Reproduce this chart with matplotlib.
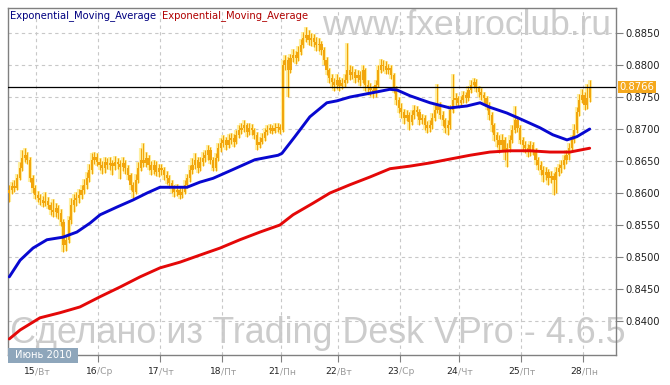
import matplotlib
matplotlib.use('Agg')
import matplotlib.pyplot as plt
import matplotlib.transforms as mtransforms
from matplotlib.patches import Rectangle
import numpy as np

# hourly candles, June 2010
first_open = 0.8600
closes = [
    0.8605, 0.8611, 0.8608, 0.8623, 0.8639, 0.8655, 0.8659, 0.8652, 0.8623, 0.8608,
    0.8597, 0.8592, 0.8589, 0.8584, 0.8588, 0.8581, 0.8573, 0.8570, 0.8577, 0.8569,
    0.8555, 0.8519, 0.8527, 0.8558, 0.8581, 0.8589, 0.8592, 0.8597, 0.8605, 0.8613,
    0.8623, 0.8636, 0.8652, 0.8656, 0.8648, 0.8644, 0.8639, 0.8648, 0.8644, 0.8647,
    0.8642, 0.8648, 0.8645, 0.8641, 0.8647, 0.8639, 0.8628, 0.8613, 0.8602, 0.8620,
    0.8639, 0.8652, 0.8647, 0.8655, 0.8644, 0.8636, 0.8644, 0.8633, 0.8639, 0.8636,
    0.8628, 0.8623, 0.8616, 0.8608, 0.8602, 0.8605, 0.8597, 0.8602, 0.8613, 0.8623,
    0.8636, 0.8644, 0.8652, 0.8639, 0.8648, 0.8655, 0.8659, 0.8667, 0.8652, 0.8639,
    0.8655, 0.8670, 0.8678, 0.8683, 0.8675, 0.8683, 0.8686, 0.8680, 0.8691, 0.8698,
    0.8702, 0.8706, 0.8695, 0.8702, 0.8698, 0.8691, 0.8675, 0.8680, 0.8686, 0.8695,
    0.8698, 0.8702, 0.8697, 0.8702, 0.8703, 0.8698, 0.8800, 0.8808, 0.8792, 0.8811,
    0.8816, 0.8811, 0.8820, 0.8831, 0.8842, 0.8847, 0.8839, 0.8842, 0.8836, 0.8831,
    0.8833, 0.8823, 0.8808, 0.8792, 0.8780, 0.8773, 0.8769, 0.8777, 0.8767, 0.8772,
    0.8777, 0.8792, 0.8784, 0.8789, 0.8780, 0.8784, 0.8777, 0.8792, 0.8769, 0.8764,
    0.8761, 0.8758, 0.8769, 0.8792, 0.8800, 0.8798, 0.8792, 0.8795, 0.8784, 0.8764,
    0.8745, 0.8733, 0.8727, 0.8717, 0.8722, 0.8711, 0.8722, 0.8730, 0.8727, 0.8714,
    0.8717, 0.8706, 0.8702, 0.8706, 0.8717, 0.8730, 0.8738, 0.8722, 0.8714, 0.8702,
    0.8706, 0.8730, 0.8745, 0.8748, 0.8741, 0.8745, 0.8753, 0.8748, 0.8761, 0.8769,
    0.8773, 0.8764, 0.8758, 0.8753, 0.8748, 0.8738, 0.8722, 0.8706, 0.8691, 0.8683,
    0.8675, 0.8683, 0.8667, 0.8670, 0.8683, 0.8698, 0.8714, 0.8702, 0.8683, 0.8675,
    0.8670, 0.8664, 0.8675, 0.8667, 0.8652, 0.8644, 0.8636, 0.8628, 0.8633, 0.8623,
    0.8627, 0.8620, 0.8633, 0.8639, 0.8644, 0.8652, 0.8659, 0.8670, 0.8683, 0.8698,
    0.8727, 0.8745, 0.8753, 0.8738, 0.8748, 0.8766,
]
highs = [
    0.8612, 0.8618, 0.8620, 0.8630, 0.8648, 0.8667, 0.8670, 0.8664, 0.8656, 0.8628,
    0.8612, 0.8603, 0.8598, 0.8595, 0.8602, 0.8593, 0.8586, 0.8590, 0.8584, 0.8582,
    0.8575, 0.8560, 0.8534, 0.8564, 0.8592, 0.8598, 0.8602, 0.8606, 0.8612, 0.8622,
    0.8633, 0.8645, 0.8662, 0.8664, 0.8662, 0.8654, 0.8650, 0.8656, 0.8655, 0.8656,
    0.8652, 0.8658, 0.8654, 0.8651, 0.8656, 0.8652, 0.8644, 0.8632, 0.8618, 0.8630,
    0.8648, 0.8670, 0.8678, 0.8664, 0.8660, 0.8650, 0.8652, 0.8650, 0.8646, 0.8645,
    0.8640, 0.8634, 0.8628, 0.8620, 0.8612, 0.8614, 0.8610, 0.8610, 0.8620, 0.8630,
    0.8644, 0.8654, 0.8662, 0.8656, 0.8656, 0.8664, 0.8668, 0.8675, 0.8672, 0.8656,
    0.8662, 0.8678, 0.8686, 0.8690, 0.8688, 0.8692, 0.8694, 0.8692, 0.8698, 0.8706,
    0.8710, 0.8714, 0.8710, 0.8709, 0.8708, 0.8702, 0.8695, 0.8688, 0.8694, 0.8702,
    0.8706, 0.8708, 0.8707, 0.8710, 0.8710, 0.8708, 0.8808, 0.8816, 0.8812, 0.8818,
    0.8825, 0.8822, 0.8830, 0.8840, 0.8852, 0.8859, 0.8855, 0.8850, 0.8848, 0.8844,
    0.8842, 0.8838, 0.8828, 0.8812, 0.8796, 0.8786, 0.8780, 0.8786, 0.8782, 0.8780,
    0.8786, 0.8835, 0.8800, 0.8798, 0.8794, 0.8792, 0.8790, 0.8800, 0.8796, 0.8776,
    0.8772, 0.8768, 0.8776, 0.8800, 0.8810, 0.8808, 0.8806, 0.8802, 0.8800, 0.8788,
    0.8768, 0.8750, 0.8740, 0.8732, 0.8730, 0.8726, 0.8730, 0.8738, 0.8736, 0.8732,
    0.8724, 0.8722, 0.8712, 0.8714, 0.8725, 0.8738, 0.8770, 0.8742, 0.8728, 0.8718,
    0.8714, 0.8738, 0.8786, 0.8756, 0.8752, 0.8752, 0.8760, 0.8758, 0.8768, 0.8776,
    0.8780, 0.8778, 0.8768, 0.8764, 0.8758, 0.8752, 0.8742, 0.8726, 0.8710, 0.8696,
    0.8690, 0.8692, 0.8688, 0.8678, 0.8690, 0.8706, 0.8736, 0.8720, 0.8706, 0.8688,
    0.8682, 0.8676, 0.8682, 0.8680, 0.8670, 0.8656, 0.8650, 0.8642, 0.8640, 0.8638,
    0.8634, 0.8632, 0.8640, 0.8646, 0.8652, 0.8660, 0.8667, 0.8678, 0.8690, 0.8708,
    0.8735, 0.8755, 0.8762, 0.8758, 0.8770, 0.8777,
]
lows = [
    0.8586, 0.8598, 0.8602, 0.8604, 0.8620, 0.8635, 0.8648, 0.8645, 0.8618, 0.8600,
    0.8590, 0.8586, 0.8582, 0.8578, 0.8580, 0.8575, 0.8566, 0.8563, 0.8562, 0.8560,
    0.8548, 0.8508, 0.8510, 0.8522, 0.8552, 0.8570, 0.8580, 0.8585, 0.8590, 0.8598,
    0.8606, 0.8618, 0.8630, 0.8645, 0.8642, 0.8636, 0.8630, 0.8632, 0.8637, 0.8636,
    0.8628, 0.8636, 0.8638, 0.8622, 0.8635, 0.8630, 0.8620, 0.8605, 0.8592, 0.8598,
    0.8615, 0.8634, 0.8640, 0.8640, 0.8636, 0.8628, 0.8630, 0.8626, 0.8625, 0.8628,
    0.8620, 0.8614, 0.8608, 0.8600, 0.8594, 0.8596, 0.8590, 0.8592, 0.8598, 0.8608,
    0.8618, 0.8630, 0.8638, 0.8632, 0.8634, 0.8642, 0.8648, 0.8652, 0.8645, 0.8634,
    0.8634, 0.8650, 0.8664, 0.8672, 0.8668, 0.8670, 0.8676, 0.8672, 0.8676, 0.8686,
    0.8692, 0.8696, 0.8688, 0.8690, 0.8690, 0.8684, 0.8667, 0.8670, 0.8676, 0.8682,
    0.8690, 0.8694, 0.8692, 0.8694, 0.8696, 0.8692, 0.8695, 0.8792, 0.8750, 0.8788,
    0.8805, 0.8802, 0.8806, 0.8815, 0.8826, 0.8836, 0.8832, 0.8830, 0.8828, 0.8822,
    0.8822, 0.8815, 0.8800, 0.8784, 0.8772, 0.8764, 0.8760, 0.8762, 0.8760, 0.8762,
    0.8766, 0.8772, 0.8776, 0.8778, 0.8772, 0.8774, 0.8768, 0.8772, 0.8760, 0.8755,
    0.8752, 0.8748, 0.8750, 0.8765, 0.8788, 0.8790, 0.8786, 0.8786, 0.8778, 0.8756,
    0.8738, 0.8725, 0.8718, 0.8708, 0.8712, 0.8698, 0.8706, 0.8716, 0.8720, 0.8706,
    0.8708, 0.8698, 0.8694, 0.8696, 0.8700, 0.8712, 0.8725, 0.8715, 0.8705, 0.8694,
    0.8690, 0.8700, 0.8725, 0.8738, 0.8734, 0.8736, 0.8740, 0.8740, 0.8744, 0.8756,
    0.8764, 0.8758, 0.8750, 0.8746, 0.8740, 0.8730, 0.8714, 0.8695, 0.8682, 0.8672,
    0.8662, 0.8668, 0.8652, 0.8641, 0.8664, 0.8678, 0.8694, 0.8696, 0.8676, 0.8668,
    0.8662, 0.8656, 0.8658, 0.8660, 0.8644, 0.8636, 0.8628, 0.8618, 0.8620, 0.8613,
    0.8615, 0.8597, 0.8600, 0.8626, 0.8632, 0.8638, 0.8645, 0.8652, 0.8664, 0.8678,
    0.8694, 0.8720, 0.8740, 0.8730, 0.8732, 0.8742,
]

# two exponential moving averages, sampled along the bars
blue_x = [0, 4.2, 9.2, 14.6, 20.8, 26.2, 31.3, 35.2, 41.7, 47.9, 53.4, 58.4, 63.5, 68.9,
          73.9, 79.0, 86.3, 95.2, 104.2, 105.7, 110.7, 116.5, 123.1, 127.0, 132.1, 138.6,
          142.5, 147.5, 150.3, 155.3, 163.1, 170.8, 177.4, 182.5, 186.3, 192.9, 199.1,
          205.7, 210.7, 216.2, 220.0, 225.0]
blue_v = [0.8469, 0.8495, 0.8514, 0.8527, 0.8531, 0.8539, 0.8553, 0.8566, 0.8578, 0.8589,
          0.8600, 0.8609, 0.8609, 0.8609, 0.8617, 0.8623, 0.8636, 0.8652, 0.8659, 0.8662,
          0.8688, 0.8719, 0.8741, 0.8744, 0.8750, 0.8755, 0.8758, 0.8762, 0.8761, 0.8752,
          0.8741, 0.8733, 0.8736, 0.8741, 0.8734, 0.8725, 0.8714, 0.8702, 0.8691, 0.8683,
          0.8688, 0.8700]
red_x = [0, 4.2, 11.9, 19.7, 27.4, 35.2, 42.9, 50.7, 58.4, 66.2, 73.9, 81.7, 89.4, 97.2,
         104.9, 110.0, 117.7, 124.3, 132.1, 139.8, 147.6, 155.3, 163.1, 170.8, 178.6,
         186.3, 194.1, 201.8, 209.6, 217.3, 225.0]
red_v = [0.8372, 0.8386, 0.8405, 0.8413, 0.8422, 0.8438, 0.8453, 0.8469, 0.8483, 0.8492,
         0.8503, 0.8514, 0.8527, 0.8539, 0.8550, 0.8566, 0.8584, 0.8600, 0.8613, 0.8625,
         0.8638, 0.8642, 0.8647, 0.8653, 0.8659, 0.8664, 0.8666, 0.8666, 0.8664, 0.8664,
         0.8670]

day_starts = [10.5, 34.5, 58.5, 82.5, 105.5, 127.5, 151.5, 174.5, 198.5, 222.5]
day_nums = ['15', '16', '17', '18', '21', '22', '23', '24', '25', '28']
day_names = ['Вт', 'Ср', 'Чт', 'Пт', 'Пн', 'Вт', 'Ср', 'Чт', 'Пт', 'Пн']
price_ticks = [0.8400, 0.8450, 0.8500, 0.8550, 0.8600, 0.8650, 0.8700, 0.8750, 0.8800, 0.8850]

W, H = 670, 385
ORANGE = '#f2a50c'
GLOW = '#fff0a0'
GRAY = '#808080'

fig = plt.figure(figsize=(W / 100, H / 100), dpi=100)
fig.patch.set_facecolor('white')
ax = fig.add_axes([8 / W, 1 - 355 / H, 608 / W, 347 / H])
ax.patch.set_alpha(0)

c = np.array(closes)
o = np.r_[first_open, c[:-1]]
hi = np.array(highs)
lo = np.array(lows)
x = np.arange(len(c))

# candles: soft glow, wick, body
ax.vlines(x, lo, hi, color=GLOW, lw=3.0, zorder=2)
ax.vlines(x, lo, hi, color=ORANGE, lw=0.8, zorder=3)
ax.bar(x, np.maximum(np.abs(c - o), 0.00008), bottom=np.minimum(o, c), width=0.85,
       color=ORANGE, edgecolor='none', zorder=3)

ax.plot(blue_x, blue_v, color='#0808d0', lw=2.1, solid_capstyle='round', zorder=4)
ax.plot(red_x, red_v, color='#e40808', lw=2.1, solid_capstyle='round', zorder=4)

last = closes[-1]
ax.axhline(last, color='black', lw=0.9, zorder=5)

ax.set_xlim(-0.5, 235.2)
ax.set_ylim(0.83469, 0.88891)

ax.set_xticks(day_starts)
ax.set_yticks(price_ticks)
ax.yaxis.tick_right()
ax.yaxis.set_major_formatter(plt.FuncFormatter(lambda v, p: '%.4f' % v))
ax.tick_params(axis='y', length=5, width=0.8, color=GRAY, labelsize=7.2,
               labelcolor='#222222', pad=2)
ax.tick_params(axis='x', length=5, width=0.8, color=GRAY, labelbottom=False)
ax.grid(True, color='#c8c8c8', linestyle=(0, (3, 3)), lw=0.8)
ax.set_axisbelow(True)
for s in ax.spines.values():
    s.set_color(GRAY)
    s.set_linewidth(1)

# current price tag
tag_tr = mtransforms.blended_transform_factory(ax.transAxes, ax.transData)
ax.text(1.006, last, '%.4f' % last, transform=tag_tr, ha='left', va='center',
        color='white', fontsize=7.2,
        bbox=dict(boxstyle='square,pad=0.12', fc='#f5a81c', ec='none'), clip_on=False)

# day labels: number dark, weekday grey
lab_tr = mtransforms.blended_transform_factory(ax.transData, fig.transFigure)
for d, num, name in zip(day_starts, day_nums, day_names):
    ax.text(d - 0.4, 1 - 372 / H, num, transform=lab_tr, ha='right', va='center',
            fontsize=6.6, color='#222222', clip_on=False)
    ax.text(d - 0.4, 1 - 372 / H, '/' + name, transform=lab_tr, ha='left', va='center',
            fontsize=6.6, color='#9a9a9a', clip_on=False)

# month box
fig.add_artist(Rectangle((8 / W, 1 - 363 / H), 70 / W, 15 / H, transform=fig.transFigure,
                         facecolor='#8ea6bb', edgecolor='none', zorder=6))
fig.text(43 / W, 1 - 355.5 / H, 'Июнь 2010', ha='center', va='center', color='white',
         fontsize=7.2, zorder=7)

# legend labels
fig.text(10 / W, 1 - 16 / H, 'Exponential_Moving_Average', color='#000080',
         fontsize=7.2, va='center')
fig.text(162 / W, 1 - 16 / H, 'Exponential_Moving_Average', color='#b00000',
         fontsize=7.2, va='center')

# watermarks behind the plot
fig.text(322 / W, 1 - 35 / H, 'www.fxeuroclub.ru', family='Liberation Sans', fontsize=25.5,
         color='#cccccc', va='baseline', ha='left', zorder=-1)
fig.text(10 / W, 1 - 343 / H, 'Сделано из Trading Desk VPro - 4.6.5', family='Liberation Sans',
         fontsize=25.8, color='#cccccc', va='baseline', ha='left', zorder=-1)

fig.savefig('out.png', dpi=100)
